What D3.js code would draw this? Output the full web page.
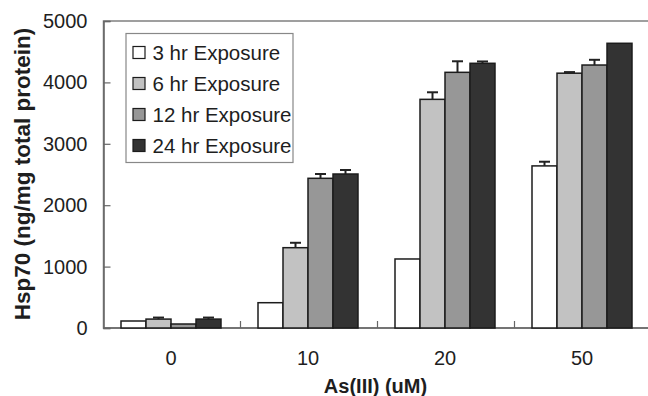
<!DOCTYPE html>
<html>
<head>
<meta charset="utf-8">
<script src="https://cdn.jsdelivr.net/npm/d3@7"></script>
<style>
    body { margin: 0; background: #fff; }
    #chart-area { width: 648px; height: 396px; }
    text { font-family: "Liberation Sans", Arial, sans-serif; fill: #1e1e1e; }
</style>
</head>
<body>
<div id="chart-area"></div>
<script>
// data
const doses = ["0", "10", "20", "50"];
const seriesNames = ["3 hr Exposure", "6 hr Exposure", "12 hr Exposure", "24 hr Exposure"];
const hr3 = [114, 412, 1124, 2640];
const hr6 = [145, 1308, 3724, 4150];
const hr12 = [65, 2438, 4164, 4283];
const hr24 = [145, 2508, 4311, 4637];
const err3 = [0, 0, 0, 68];
const err6 = [25, 80, 115, 18];
const err12 = [0, 70, 180, 85];
const err24 = [25, 65, 30, 0];
const yTicks = [0, 1000, 2000, 3000, 4000, 5000];

class BarVis {
    constructor(_parentElement) {
        this.parentElement = _parentElement;
        this.initVis();
    }

    initVis() {
        let vis = this;

        vis.margin = { top: 21, right: -3.5, bottom: 68, left: 103.5 };
        vis.width = 648 - vis.margin.left - vis.margin.right;
        vis.height = 396 - vis.margin.top - vis.margin.bottom;

        vis.svg = d3.select("#" + vis.parentElement).append("svg")
            .attr("width", 648)
            .attr("height", 396)
            .append("g")
            .attr("transform", "translate(" + vis.margin.left + "," + vis.margin.top + ")");

        vis.colors = d3.scaleOrdinal()
            .domain(seriesNames)
            .range(["#ffffff", "#c2c2c2", "#979797", "#333333"]);

        // rows for the grouped bars
        let vals = [hr3, hr6, hr12, hr24];
        let errs = [err3, err6, err12, err24];
        vis.data = [];
        doses.forEach((d, i) => {
            seriesNames.forEach((s, j) => {
                vis.data.push({ dose: d, series: s, value: vals[j][i], err: errs[j][i] });
            });
        });

        vis.x = d3.scaleBand().domain(doses).range([0, vis.width]);
        vis.xInner = d3.scaleBand().domain(seriesNames).range([17.5, 117.5]);
        vis.y = d3.scaleLinear().domain([0, 5000]).range([vis.height, 0]);

        vis.updateVis();
    }

    updateVis() {
        let vis = this;

        // frame
        vis.svg.append("rect")
            .attr("width", vis.width)
            .attr("height", vis.height)
            .attr("fill", "none")
            .attr("stroke", "#808080")
            .attr("stroke-width", 1.5);

        // y axis (ticks point inward)
        let yAxis = d3.axisRight(vis.y).tickValues(yTicks).tickSize(7).tickFormat(d3.format("d"));
        let yg = vis.svg.append("g").attr("class", "y-axis axis").call(yAxis);
        yg.select(".domain").attr("stroke", "#666").attr("stroke-width", 1.5);
        yg.selectAll(".tick line").attr("stroke", "#666").attr("stroke-width", 1.2);
        yg.selectAll(".tick text")
            .attr("x", -16)
            .attr("text-anchor", "end")
            .attr("font-size", 20);

        // x axis: category separators pointing up
        let xg = vis.svg.append("g")
            .attr("class", "x-axis axis")
            .attr("transform", "translate(0," + vis.height + ")");
        xg.append("line")
            .attr("x1", 0).attr("x2", vis.width)
            .attr("stroke", "#666").attr("stroke-width", 1.5);
        xg.selectAll(".sep")
            .data(doses.slice(1))
            .enter().append("line")
            .attr("class", "sep")
            .attr("x1", d => vis.x(d)).attr("x2", d => vis.x(d))
            .attr("y1", 0).attr("y2", -7)
            .attr("stroke", "#666").attr("stroke-width", 1.2);
        xg.selectAll(".xlab")
            .data(doses)
            .enter().append("text")
            .attr("class", "xlab")
            .attr("x", d => vis.x(d) + vis.x.bandwidth() / 2 - 1)
            .attr("y", 37)
            .attr("text-anchor", "middle")
            .attr("font-size", 20)
            .text(d => d);

        // bars
        vis.svg.selectAll(".bar")
            .data(vis.data)
            .enter().append("rect")
            .attr("class", "bar")
            .attr("x", d => vis.x(d.dose) + vis.xInner(d.series))
            .attr("y", d => vis.y(d.value))
            .attr("width", vis.xInner.bandwidth())
            .attr("height", d => vis.height - vis.y(d.value))
            .attr("fill", d => vis.colors(d.series))
            .attr("stroke", "#1c1c1c")
            .attr("stroke-width", 1.5);

        // error bars
        let eb = vis.svg.selectAll(".err")
            .data(vis.data.filter(d => d.err > 0))
            .enter().append("g")
            .attr("class", "err")
            .attr("transform", d => "translate(" + (vis.x(d.dose) + vis.xInner(d.series) + vis.xInner.bandwidth() / 2) + ",0)");
        eb.append("line")
            .attr("y1", d => vis.y(d.value)).attr("y2", d => vis.y(d.value + d.err))
            .attr("stroke", "#222").attr("stroke-width", 2);
        eb.append("line")
            .attr("x1", -5.5).attr("x2", 5.5)
            .attr("y1", d => vis.y(d.value + d.err)).attr("y2", d => vis.y(d.value + d.err))
            .attr("stroke", "#222").attr("stroke-width", 2);

        // axis titles
        vis.svg.append("text")
            .attr("x", vis.x("10") + vis.x.bandwidth() - 2)
            .attr("y", vis.height + 65)
            .attr("text-anchor", "middle")
            .attr("font-size", 20)
            .attr("font-weight", "bold")
            .text("As(III) (uM)");

        vis.svg.append("text")
            .attr("transform", "rotate(-90)")
            .attr("x", -153)
            .attr("y", -74)
            .attr("text-anchor", "middle")
            .attr("font-size", 22.5)
            .attr("font-weight", "bold")
            .text("Hsp70 (ng/mg total protein)");

        // legend
        let legend = vis.svg.append("g").attr("transform", "translate(22.5,12.5)");
        legend.append("rect")
            .attr("width", 167)
            .attr("height", 129)
            .attr("fill", "#fff")
            .attr("stroke", "#888")
            .attr("stroke-width", 1.2);
        let items = legend.selectAll(".item")
            .data(seriesNames)
            .enter().append("g")
            .attr("class", "item")
            .attr("transform", (d, i) => "translate(7," + (19 + i * 31) + ")");
        items.append("rect")
            .attr("y", -6)
            .attr("width", 12).attr("height", 12)
            .attr("fill", d => vis.colors(d))
            .attr("stroke", "#1c1c1c")
            .attr("stroke-width", 1.2);
        items.append("text")
            .attr("x", 19.5)
            .attr("y", 7.5)
            .attr("font-size", 20.5)
            .text(d => d);
    }
}

new BarVis("chart-area");
</script>
</body>
</html>
